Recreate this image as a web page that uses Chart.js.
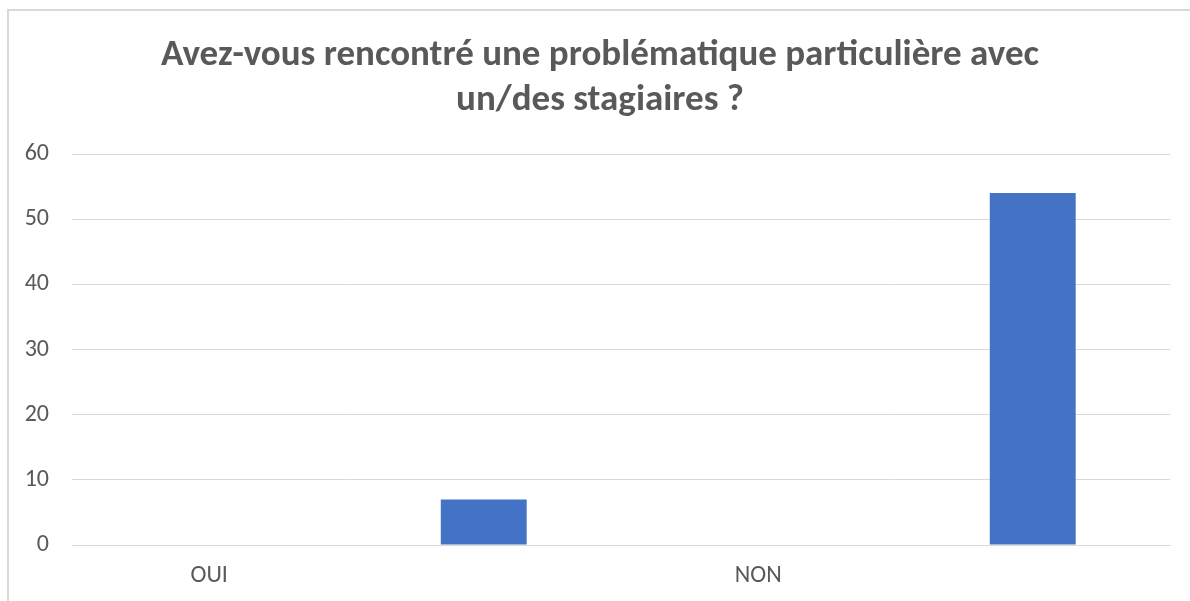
<!DOCTYPE html>
<html>
<head>
<meta charset="utf-8">
<script src="https://cdn.jsdelivr.net/npm/chart.js@4.4.1/dist/chart.umd.min.js"></script>
<style>
  body { margin: 0; background: #fff; }
  .frame {
    position: absolute; left: 7px; top: 9px; width: 1183px; height: 592px;
    border-left: 2px solid #d9d9d9; border-top: 2px solid #d9d9d9;
  }
  .wrap { position: absolute; left: 0; top: 0; width: 1190px; height: 601px; }
</style>
</head>
<body>
<div class="frame"></div>
<div class="wrap"><canvas id="myChart" width="1190" height="601"></canvas></div>
<script>
// DATA
var categories = ["OUI", "", "NON", ""];
var values = [null, 7, null, 54];
var yTicks = [0, 10, 20, 30, 40, 50, 60];
var titleLines = ["Avez-vous rencontré une problématique particulière avec", "un/des stagiaires ?"];

var textColor = "#595959";
var gridColor = "#d9d9d9";
var fontFamily = "Carlito, 'Liberation Sans Narrow', 'Open Sans', sans-serif";

// TITLE (drawn by hand so it can sit slightly right of the canvas centre, like Excel)
var titlePlugin = {
  id: "excelTitle",
  afterDraw: function (chart) {
    var ctx = chart.ctx;
    ctx.save();
    ctx.font = "bold 37px " + fontFamily;
    ctx.fillStyle = textColor;
    ctx.textAlign = "center";
    ctx.textBaseline = "alphabetic";
    titleLines.forEach(function (line, i) {
      ctx.fillText(line, 600, 65 + i * 45);
    });
    ctx.restore();
  },
};

new Chart("myChart", {
  type: "bar",
  data: {
    labels: categories,
    datasets: [
      {
        data: values,
        backgroundColor: "#4472c4",
        barPercentage: 0.313,
        categoryPercentage: 1.0,
      },
    ],
  },
  plugins: [titlePlugin],
  options: {
    responsive: false,
    animation: false,
    layout: { padding: { left: 0, right: 20, top: 154, bottom: 0 } },
    plugins: {
      legend: { display: false },
      tooltip: { enabled: false },
      title: { display: false },
    },
    scales: {
      x: {
        grid: { display: false, drawTicks: false },
        border: { color: gridColor, width: 1 },
        ticks: { color: textColor, font: { family: fontFamily, size: 24 }, padding: 17, maxRotation: 0 },
        afterFit: function (scale) { scale.height = 56; },
      },
      y: {
        min: 0,
        max: 60,
        afterBuildTicks: function (scale) {
          scale.ticks = yTicks.map(function (v) { return { value: v }; });
        },
        grid: { color: gridColor, drawTicks: false },
        border: { display: false },
        ticks: { color: textColor, font: { family: fontFamily, size: 24 }, padding: 23 },
        afterFit: function (scale) {
          scale.width = 72;
          scale.paddingTop = 0;
        },
      },
    },
  },
});
</script>
</body>
</html>
